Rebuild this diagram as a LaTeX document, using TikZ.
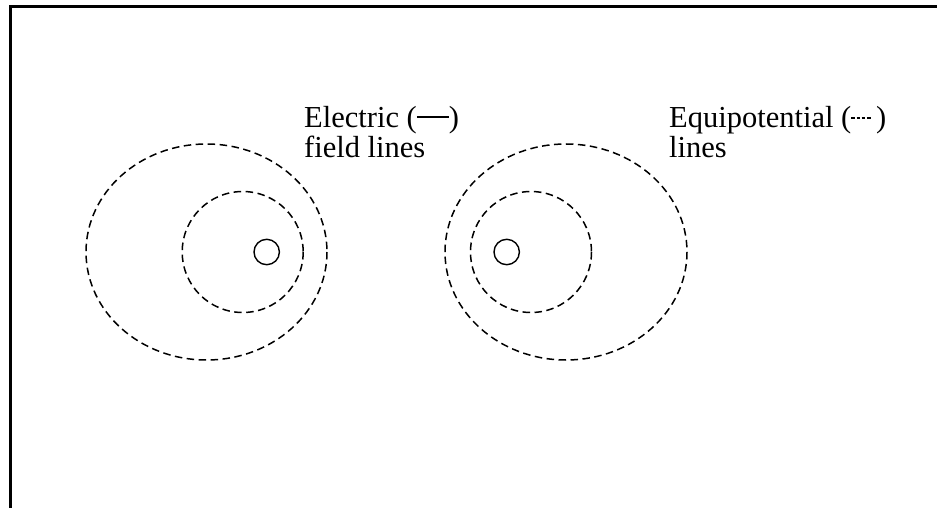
\documentclass[tikz,border=0pt]{standalone}
\usepackage{fontspec}
\setmainfont{Liberation Serif}
\usetikzlibrary{positioning}
\tikzset{
  frameline/.style={line width=2.5pt, line cap=rect},
  equiline/.style={dash pattern=on 7.5pt off 4.5pt, line width=1.5pt},
  charge/.style={circle, draw=black, line width=1.4pt, minimum size=25.4pt, inner sep=0pt},
  label/.style={anchor=north west, inner sep=0pt, align=left, font={\fontsize{30.5}{30.5}\selectfont}}
}
\newcommand{\minidash}{\rule[0.27em]{3.6pt}{2.6pt}\hspace{1.6pt}}

\begin{document}
\begin{tikzpicture}[x=1pt, y=-1pt]
  \useasboundingbox (0,0) rectangle (937,508);
  % frame
  \coordinate (ftr) at (940,6.5);
  \coordinate (ftl) at (10.7,6.5);
  \coordinate (fbl) at (10.7,511);
  \draw[frameline] (ftr) -- (ftl) -- (fbl);
  % charges
  \node[charge] (qa) at (266.7,252) {};
  \node[charge] (qb) at (506.7,252) {};
  % equipotentials
  \draw[equiline] (206.5,252) ellipse [x radius=120.5, y radius=108];
  \draw[equiline] (242.7,252) circle [radius=60.5];
  \draw[equiline] (566,252) ellipse [x radius=121, y radius=108];
  \draw[equiline] (531,252) circle [radius=60.5];
  % labels
  \node[label] (efl) at (304,106) {Electric (\rule[0.3em]{1.05em}{2.6pt})\\field lines};
  \node[label] (eql) at (669,106) {Equipotential (\minidash\minidash\minidash\minidash\hspace{4pt})\\lines};
\end{tikzpicture}
\end{document}
